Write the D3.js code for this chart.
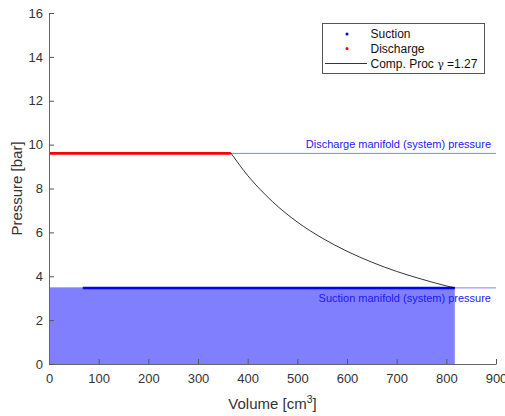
<!DOCTYPE html>
<html>
<head>
<meta charset="utf-8">
<script src="https://cdn.jsdelivr.net/npm/d3@7"></script>
<style>
  html, body { margin: 0; padding: 0; background: #fff; }
  svg { display: block; font-family: "Liberation Sans", Arial, Helvetica, sans-serif; }
</style>
</head>
<body>
<svg id="chart" width="505" height="416"></svg>
<script>
// Axis ranges and ticks
const xTicks = [0, 100, 200, 300, 400, 500, 600, 700, 800, 900];
const yTicks = [0, 2, 4, 6, 8, 10, 12, 14, 16];

// Manifold (system) pressures [bar]
const suctionPressure = 3.47;
const dischargePressure = 9.6;

// Suction stroke: volume span [cm^3] at suction pressure
const suctionVolume = [68, 817];
// Discharge stroke: volume span [cm^3] at discharge pressure
const dischargeVolume = [0, 366];
// Swept region under suction pressure
const fillVolume = [0, 817];

// Compression process (volume [cm^3], pressure [bar])
const compVolume   = [366, 383, 400, 425, 450, 500, 550, 600, 650, 700, 750, 800, 817];
const compPressure = [9.62, 9.09, 8.59, 7.96, 7.40, 6.47, 5.74, 5.14, 4.64, 4.22, 3.87, 3.56, 3.47];

const svg = d3.select("#chart");
const margin = { left: 49, right: 9, top: 13, bottom: 52 };
const W = 505, H = 416;

const x = d3.scaleLinear().domain([0, 900]).range([margin.left, W - margin.right]);
const y = d3.scaleLinear().domain([0, 16]).range([H - margin.bottom, margin.top]);

const plot = svg.append("g");

// Filled area below suction pressure
plot.append("rect")
  .attr("x", x(fillVolume[0]))
  .attr("y", y(suctionPressure))
  .attr("width", x(fillVolume[1]) - x(fillVolume[0]))
  .attr("height", y(0) - y(suctionPressure))
  .attr("fill", "#8080ff");

// Manifold pressure reference lines
[dischargePressure, suctionPressure].forEach(p => {
  plot.append("line")
    .attr("x1", x(0)).attr("x2", x(900))
    .attr("y1", y(p)).attr("y2", y(p))
    .attr("stroke", "#8080ff").attr("stroke-width", 1);
});

// Suction line
plot.append("line")
  .attr("x1", x(suctionVolume[0])).attr("x2", x(suctionVolume[1]))
  .attr("y1", y(suctionPressure)).attr("y2", y(suctionPressure))
  .attr("stroke", "#0000ff").attr("stroke-width", 2.5);

// Discharge line
plot.append("line")
  .attr("x1", x(dischargeVolume[0])).attr("x2", x(dischargeVolume[1]))
  .attr("y1", y(dischargePressure)).attr("y2", y(dischargePressure))
  .attr("stroke", "#ff0000").attr("stroke-width", 2.8);

// Compression curve
const line = d3.line()
  .x((d, i) => x(compVolume[i]))
  .y(d => y(d))
  .curve(d3.curveMonotoneX);
plot.append("path")
  .datum(compPressure)
  .attr("d", line)
  .attr("fill", "none")
  .attr("stroke", "#000")
  .attr("stroke-width", 0.8);

// Manifold labels
plot.append("text")
  .attr("x", 491).attr("y", y(dischargePressure) - 5)
  .attr("text-anchor", "end")
  .attr("font-size", 11).attr("fill", "#1a1aff")
  .text("Discharge manifold (system) pressure");
plot.append("text")
  .attr("x", 491).attr("y", y(suctionPressure) + 14)
  .attr("text-anchor", "end")
  .attr("font-size", 11).attr("fill", "#1a1aff")
  .text("Suction manifold (system) pressure");

// Axes
const axisColor = "#404040";
const gx = svg.append("g")
  .attr("transform", `translate(0,${y(0)})`)
  .call(d3.axisBottom(x).tickValues(xTicks).tickSizeInner(-5).tickSizeOuter(0).tickPadding(10));
const gy = svg.append("g")
  .attr("transform", `translate(${x(0)},0)`)
  .call(d3.axisLeft(y).tickValues(yTicks).tickSizeInner(-5).tickSizeOuter(0).tickPadding(6));
[gx, gy].forEach(g => {
  g.select(".domain").attr("stroke", "#666");
  g.selectAll(".tick line").attr("stroke", "#555");
  g.selectAll(".tick text").attr("fill", "#333").attr("font-size", 13)
    .attr("font-family", "Liberation Sans, Arial, sans-serif");
});

// Axis titles
const xt = svg.append("text")
  .attr("x", x(450)).attr("y", 409)
  .attr("text-anchor", "middle")
  .attr("font-size", 15).attr("fill", "#333");
xt.append("tspan").text("Volume [cm");
xt.append("tspan").attr("font-size", 10.5).attr("dy", -6).text("3");
xt.append("tspan").attr("dy", 6).text("]");

svg.append("text")
  .attr("transform", `translate(22,${(y(0) + y(16)) / 2}) rotate(-90)`)
  .attr("text-anchor", "middle")
  .attr("font-size", 15).attr("fill", "#333")
  .text("Pressure [bar]");

// Legend
const leg = svg.append("g");
leg.append("rect")
  .attr("x", 322.5).attr("y", 23.5).attr("width", 162).attr("height", 50)
  .attr("fill", "#fff").attr("stroke", "#555").attr("stroke-width", 1);
const legItems = [
  { label: "Suction", color: "#0000ff", type: "dot", cy: 34 },
  { label: "Discharge", color: "#ff0000", type: "dot", cy: 48.5 },
  { label: "Comp. Proc ", color: "#000", type: "line", cy: 63.5 }
];
legItems.forEach(d => {
  if (d.type === "dot") {
    leg.append("circle").attr("cx", 347).attr("cy", d.cy).attr("r", 1.5).attr("fill", d.color);
  } else {
    leg.append("line").attr("x1", 325).attr("x2", 367).attr("y1", d.cy).attr("y2", d.cy)
      .attr("stroke", "#000").attr("stroke-width", 0.8);
  }
  const t = leg.append("text")
    .attr("x", 370.5).attr("y", d.cy + 4.3)
    .attr("font-size", 12).attr("fill", "#111");
  t.append("tspan").text(d.label);
  if (d.type === "line") {
    t.append("tspan").attr("font-family", "DejaVu Serif, serif").attr("font-size", 11).text("γ");
    t.append("tspan").text(" =1.27");
  }
});
</script>
</body>
</html>
